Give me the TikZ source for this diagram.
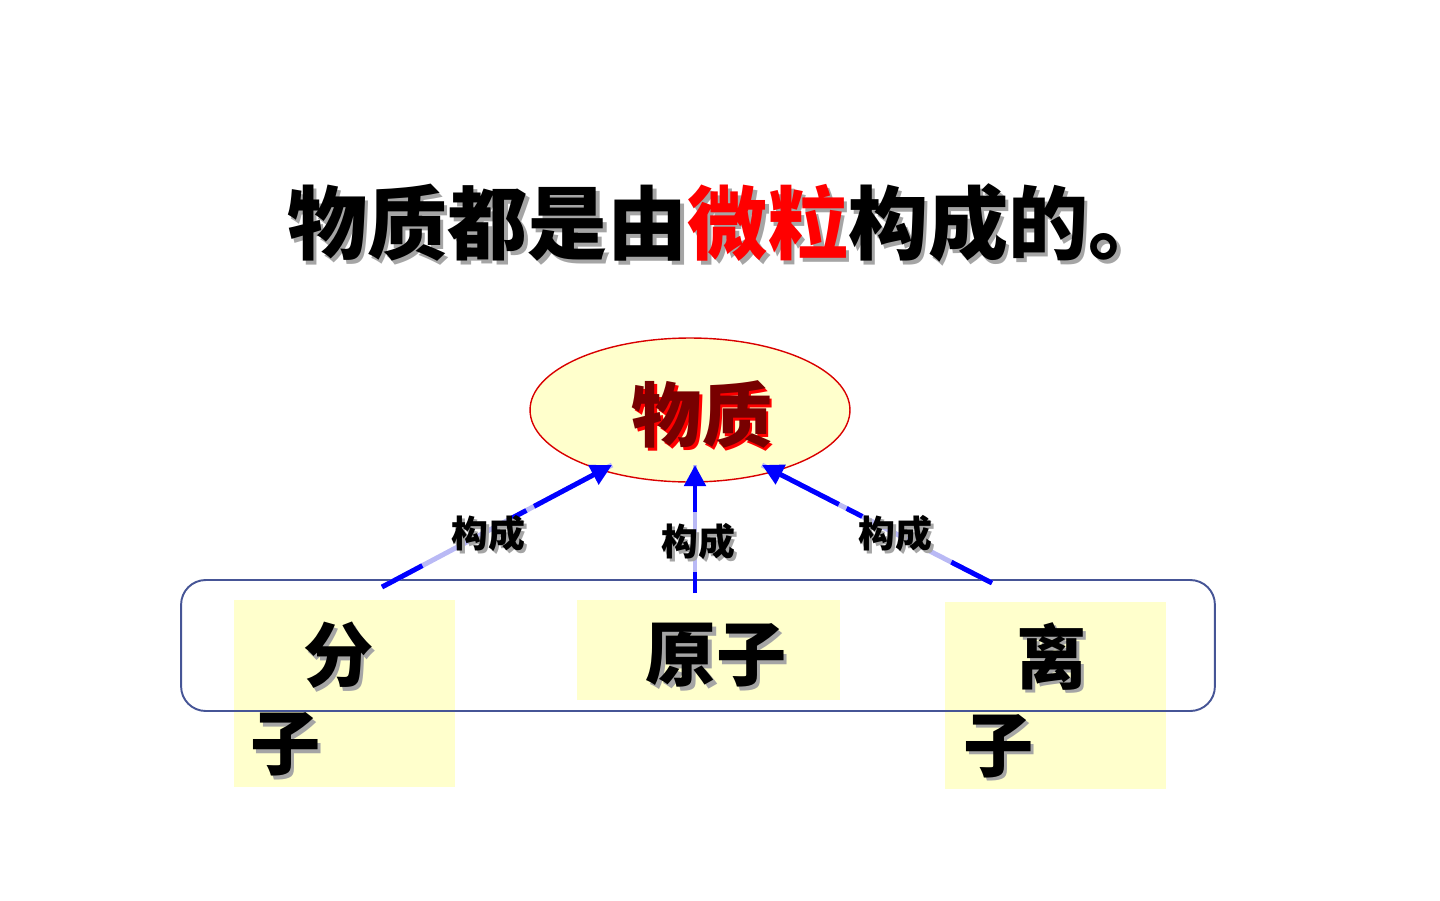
\documentclass[tikz,border=0pt]{standalone}
\usepackage{fontspec}
\newfontfamily\cjk{Noto Sans CJK SC}
\usepackage{xcolor}
\usepackage{tikz}
\usetikzlibrary{arrows.meta, shapes.geometric, positioning}
\definecolor{paleyellow}{RGB}{255,255,204}
\definecolor{framecol}{RGB}{70,85,150}
\definecolor{lightblue}{RGB}{185,185,245}
\definecolor{shadowgray}{RGB}{165,165,165}
\definecolor{matred}{RGB}{120,0,0}
% text with a grey drop shadow / a red glow
\newcommand\shd[1]{\rlap{\kern2pt\raisebox{-2pt}{\color{shadowgray}#1}}#1}
\newcommand\glow[1]{\rlap{\kern1.5pt\raisebox{-1.5pt}{\color{red}#1}}{\color{matred}#1}}

\begin{document}
\begin{tikzpicture}[
    x=0.02cm, y=-0.02cm,
    big/.style={inner sep=0pt, font=\cjk\bfseries\fontsize{45.6}{52}\selectfont},
    mid/.style={inner sep=0pt, font=\cjk\bfseries\fontsize{40}{50}\selectfont, align=left},
    small/.style={inner sep=0pt, font=\cjk\bfseries\fontsize{21}{25}\selectfont},
    ybox/.style={fill=paleyellow, draw=none, anchor=north west, inner sep=0pt},
    base/.style={line width=2.8pt, lightblue},
    arr/.style={line width=2.8pt, blue, -{Triangle[length=12pt, width=12pt]}}
  ]
  \useasboundingbox (0,0) rectangle (1440,900);

  % Title
  \node[big] (title) at (728,225) {\shd{物质都是由}{\color{red}\shd{微粒}}\shd{构成的。}};

  % Matter
  \node[ellipse, draw=red!85!black, line width=0.8pt, fill=paleyellow, inner sep=0pt,
        minimum width=6.4cm, minimum height=2.88cm] (mat) at (690,410) {};
  \node[mid] (matT) at (702,416) {\glow{物质}};

  % Particles
  \node[ybox, minimum width=4.42cm, minimum height=3.74cm] (molbox) at (234,600) {};
  \node[ybox, minimum width=5.26cm, minimum height=2.0cm] (atombox) at (577,600) {};
  \node[ybox, minimum width=4.42cm, minimum height=3.74cm] (ionbox) at (945,602) {};
  \node[draw=framecol, line width=1.1pt, rounded corners=14pt, inner sep=0pt,
        minimum width=20.68cm, minimum height=2.62cm] (group) at (698,645.5) {};

  \node[mid, anchor=north west] (mol) at (250,622) {\shd{\hspace{30pt}分}\\\shd{子}};
  \node[mid] (atom) at (716,657) {\shd{原子}};
  \node[mid, anchor=north west] (ion) at (963,622) {\shd{\hspace{30pt}离}\\\shd{子}};

  % Arrows
  \coordinate (srcL) at (382,587);
  \coordinate (srcM) at (695,593);
  \coordinate (srcR) at (992,583);
  \coordinate (tipL) at (612,465);
  \coordinate (tipM) at (695,465);
  \coordinate (tipR) at (762,465);
  \draw[base] (srcL) -- (tipL);
  \draw[base] (srcM) -- (tipM);
  \draw[base] (srcR) -- (tipR);
  \draw[arr, dash pattern=on 26pt off 57pt on 10pt off 5pt on 80pt] (srcL) -- (tipL);
  \draw[arr, dash pattern=on 12pt off 34pt on 80pt] (srcM) -- (tipM);
  \draw[arr, dash pattern=on 26pt off 57pt on 10pt off 5pt on 80pt] (srcR) -- (tipR);

  \node[small] (labL) at (488,535) {\shd{构成}};
  \node[small] (labM) at (698,543) {\shd{构成}};
  \node[small] (labR) at (895,535) {\shd{构成}};
\end{tikzpicture}
\end{document}
